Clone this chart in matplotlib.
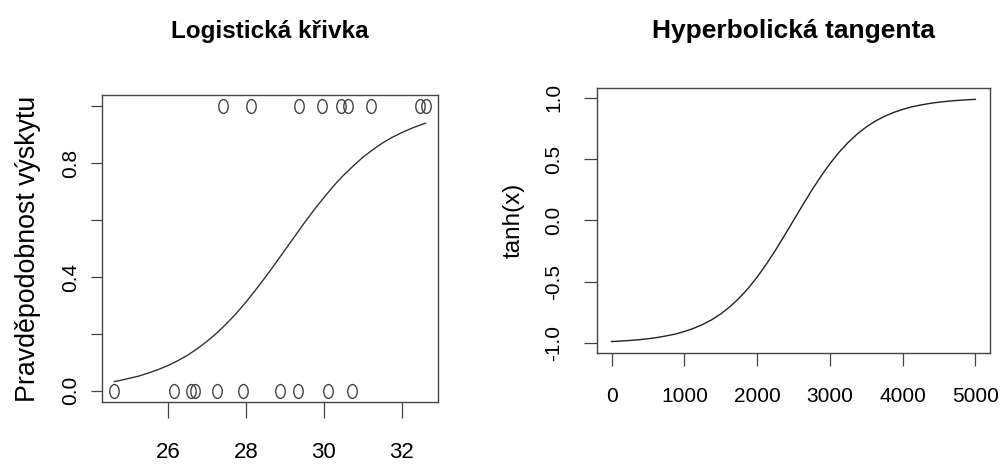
import matplotlib
matplotlib.use('Agg')
import matplotlib.pyplot as plt
from matplotlib.path import Path
import numpy as np

plt.rcParams['font.family'] = ['Liberation Sans', 'DejaVu Sans']

# levá část: pozorování (0/1) a odečtená logistická křivka
obs_x1 = [27.42, 28.14, 29.36, 29.95, 30.45, 30.61, 31.20, 32.48, 32.61]
obs_x0 = [24.63, 26.17, 26.60, 26.70, 27.27, 27.93, 28.88, 29.35, 30.12, 30.73]

logit_x = [24.63, 24.75, 25.0, 25.25, 25.5, 25.75, 26.0, 26.25, 26.5, 26.75,
           27.0, 27.25, 27.5, 27.75, 28.0, 28.25, 28.5, 28.75, 29.0, 29.25,
           29.5, 29.75, 30.0, 30.25, 30.5, 30.75, 31.0, 31.25, 31.5, 31.75,
           32.0, 32.25, 32.5, 32.61]
logit_y = [0.032, 0.035, 0.043, 0.051, 0.062, 0.074, 0.088, 0.105, 0.124, 0.147,
           0.173, 0.202, 0.235, 0.271, 0.311, 0.354, 0.399, 0.446, 0.494, 0.542,
           0.590, 0.636, 0.679, 0.720, 0.757, 0.790, 0.821, 0.847, 0.871, 0.891,
           0.908, 0.923, 0.936, 0.941]

# pravá část: tanh odečtená po 125
tanh_x = list(range(0, 5001, 125))
tanh_y = [-0.987, -0.983, -0.978, -0.972, -0.964, -0.954, -0.941, -0.926,
          -0.905, -0.880, -0.848, -0.810, -0.762, -0.704, -0.635, -0.555,
          -0.462, -0.358, -0.245, -0.124, 0.0, 0.124, 0.245, 0.358,
          0.462, 0.555, 0.635, 0.704, 0.762, 0.810, 0.848, 0.880,
          0.905, 0.926, 0.941, 0.954, 0.964, 0.972, 0.978, 0.983, 0.987]

left_xticks = [26, 28, 30, 32]
left_yticks = [0.0, 0.2, 0.4, 0.6, 0.8, 1.0]
left_ylabels = ['0.0', '', '0.4', '', '0.8', '']
right_xticks = [0, 1000, 2000, 3000, 4000, 5000]
right_yticks = [-1.0, -0.5, 0.0, 0.5, 1.0]

fig = plt.figure(figsize=(10.02, 4.65), dpi=100)
ax1 = fig.add_axes([0.1018, 0.1355, 0.3353, 0.660])
ax2 = fig.add_axes([0.5958, 0.2409, 0.3922, 0.570])

# elipsa místo kruhu (levý panel je v originále protažený)
circ = Path.unit_circle()
ell = Path(circ.vertices * np.array([0.68, 1.0]), circ.codes)

ax1.plot(logit_x, logit_y, color='#333333', lw=1.0)
ax1.plot(obs_x1, [1] * len(obs_x1), ls='none', marker=ell, ms=10, mfc='none', mec='#444444', mew=1.0)
ax1.plot(obs_x0, [0] * len(obs_x0), ls='none', marker=ell, ms=10, mfc='none', mec='#444444', mew=1.0)

xr = max(obs_x1 + obs_x0) - min(obs_x1 + obs_x0)
ax1.set_xlim(min(obs_x0) - 0.04 * xr, max(obs_x1) + 0.04 * xr)
ax1.set_ylim(-0.04, 1.04)
ax1.set_xticks(left_xticks)
ax1.set_xticklabels([str(t) for t in left_xticks], fontsize=16)
ax1.set_yticks(left_yticks)
ax1.set_yticklabels(left_ylabels, rotation=90, va='center', fontsize=15)
ax1.tick_params(axis='x', direction='out', length=11.5, width=0.9, color='#444444', pad=17)
ax1.tick_params(axis='y', direction='out', length=8, width=0.9, color='#444444', pad=8)
ax1.set_ylabel('Pravděpodobnost výskytu', fontsize=19.3, labelpad=14)
ax1.set_title('Logistická křivka', fontweight='bold', fontsize=17.5, pad=41)

ax2.plot(tanh_x, tanh_y, color='#222222', lw=1.0)
ax2.set_xlim(-200, 5200)
ax2.set_ylim(-1.08, 1.08)
ax2.set_xticks(right_xticks)
ax2.set_yticks(right_yticks)
ax2.set_yticklabels(['%.1f' % t for t in right_yticks], rotation=90, va='center', fontsize=15)
ax2.set_xticklabels([str(t) for t in right_xticks], fontsize=15)
ax2.tick_params(axis='x', direction='out', length=9.5, width=0.9, color='#444444', pad=15)
ax2.tick_params(axis='y', direction='out', length=9.5, width=0.9, color='#444444', pad=15)
ax2.set_ylabel('tanh(x)', fontsize=17.5, labelpad=14)
ax2.set_title('Hyperbolická tangenta', fontweight='bold', fontsize=19, pad=36)

for ax in (ax1, ax2):
    for s in ax.spines.values():
        s.set_color('#444444')
        s.set_linewidth(1.0)

fig.savefig('out.png', dpi=100)
